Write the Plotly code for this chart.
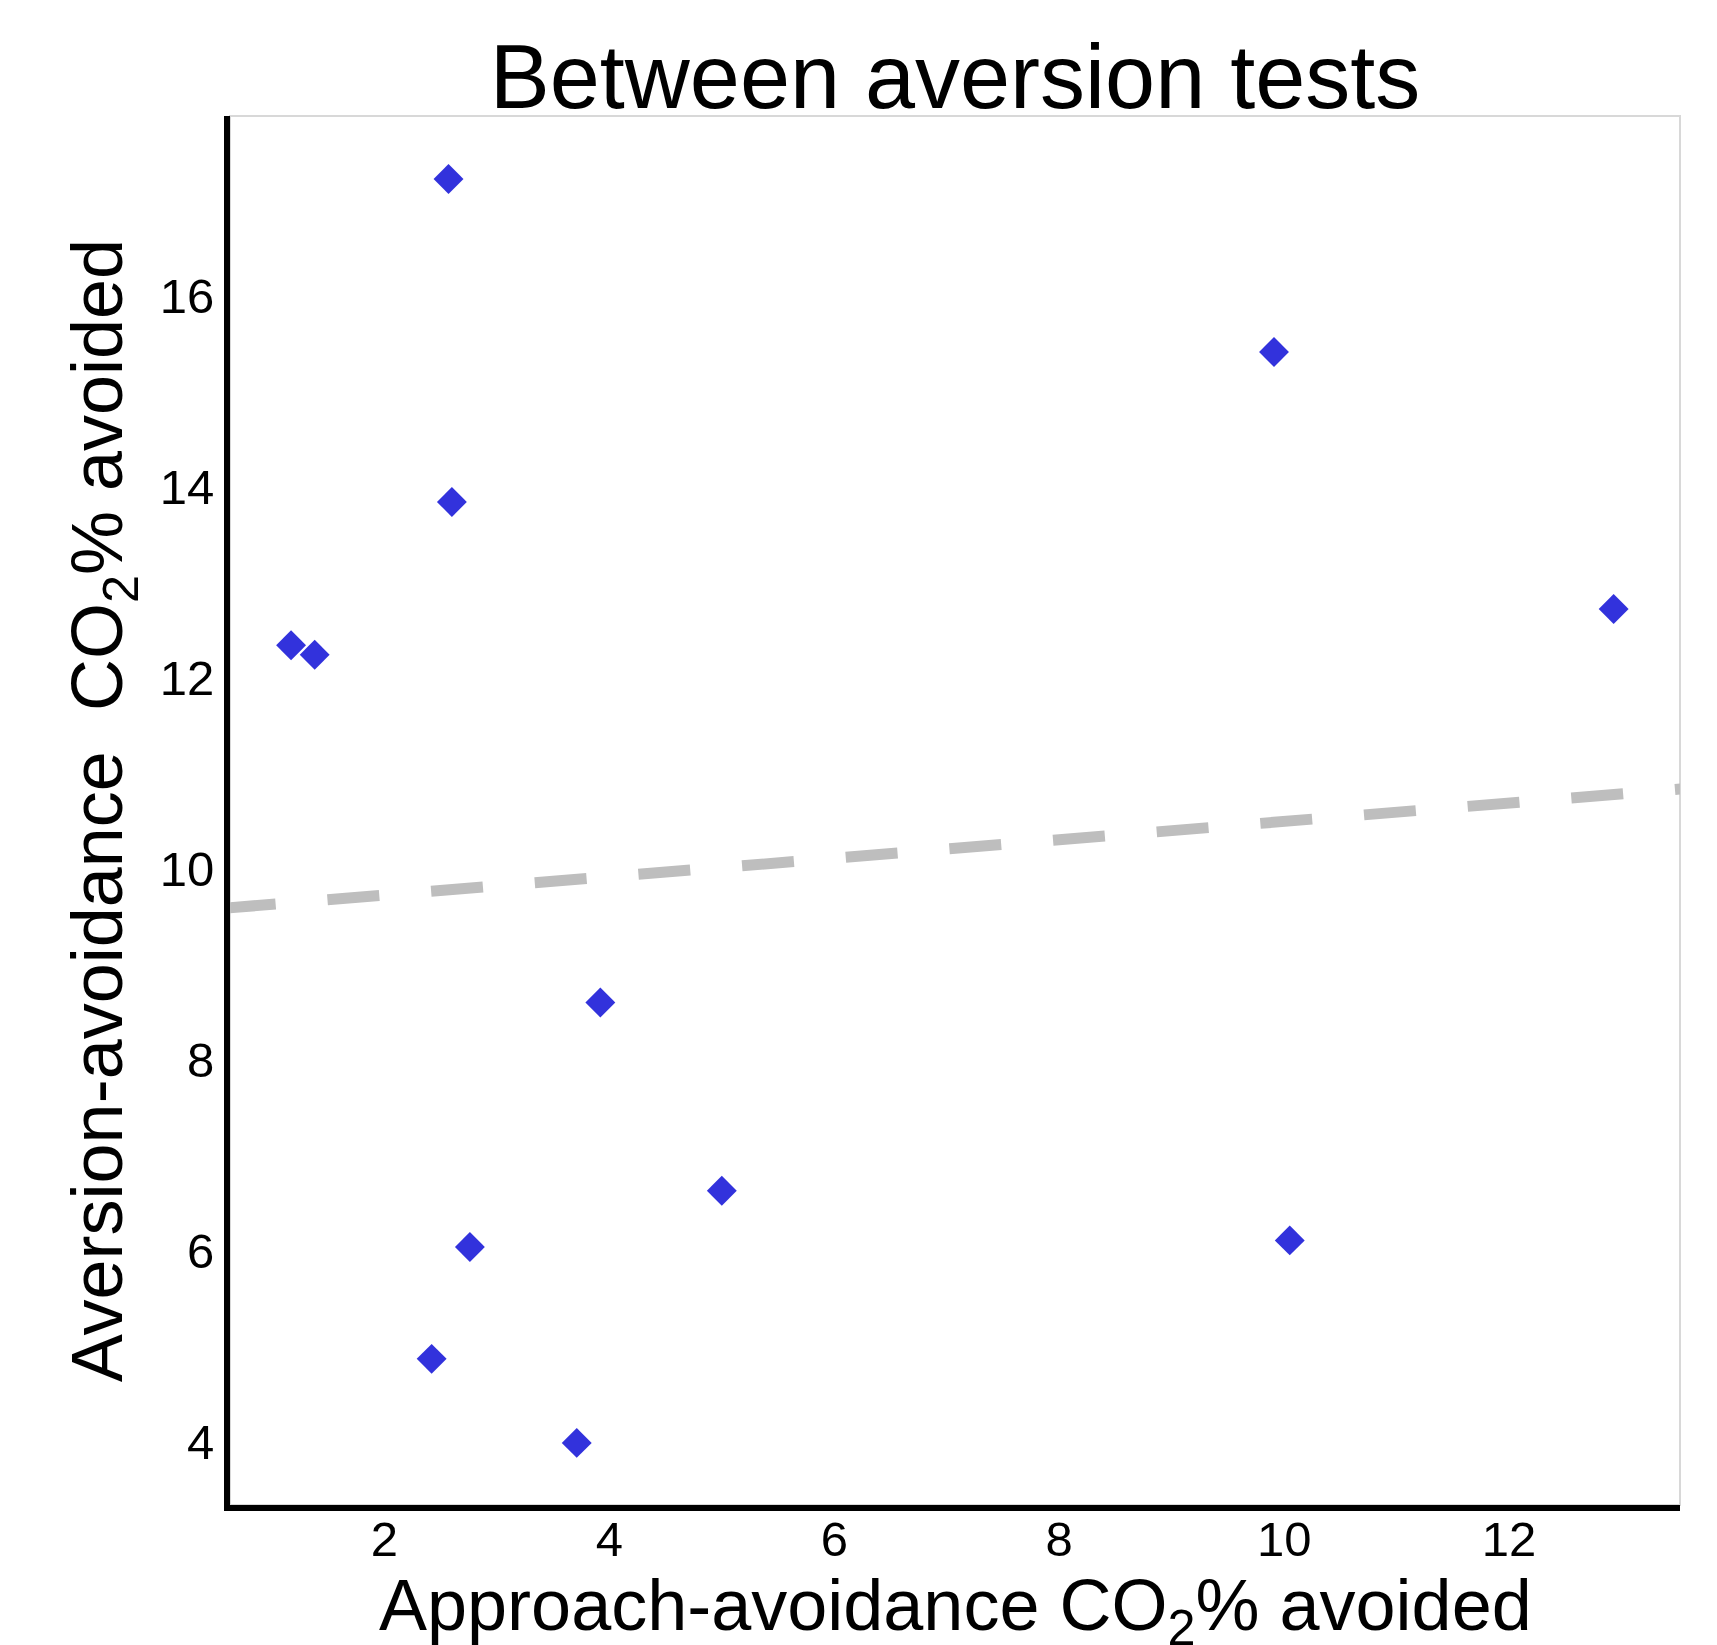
import numpy as np
import plotly.graph_objects as go

# Data
approach_avoided = [2.57, 9.91, 2.60, 12.93, 1.17, 1.38, 3.92, 5.00, 10.05, 2.76, 2.42, 3.71]
aversion_avoided = [17.22, 15.41, 13.84, 12.72, 12.34, 12.24, 8.60, 6.63, 6.11, 6.04, 4.87, 3.99]
x_ticks = [2, 4, 6, 8, 10, 12]
y_ticks = [4, 6, 8, 10, 12, 14, 16]
x_range = [0.627, 13.52]
y_range = [3.34, 17.88]

# Linear fit (dashed line) computed from the data, drawn across the panel (clipped)
slope, intercept = np.polyfit(approach_avoided, aversion_avoided, 1)
fit_x = np.array([x_range[0] - 0.055, x_range[1] + 0.5])
fit_y = slope * fit_x + intercept

FONT = "Liberation Sans, Arial, sans-serif"

fig = go.Figure()
fig.add_trace(go.Scatter(
    x=fit_x, y=fit_y, mode="lines",
    line=dict(color="#BEBEBE", width=11, dash="52px,52px"),
    hoverinfo="skip", showlegend=False,
))
fig.add_trace(go.Scatter(
    x=approach_avoided, y=aversion_avoided, mode="markers",
    marker=dict(symbol="diamond", size=23, color="rgb(50,50,220)", line=dict(width=0)),
    showlegend=False,
))

fig.update_layout(
    width=1717, height=1645,
    margin=dict(l=230, r=37, t=116, b=140),
    paper_bgcolor="white", plot_bgcolor="white",
    font=dict(family=FONT, color="black"),
    title=dict(
        text="Between aversion tests",
        font=dict(size=90, family=FONT, color="black"),
        x=0.5, xref="paper", xanchor="center",
        y=1 - 108 / 1645, yref="container", yanchor="bottom",
    ),
    shapes=[dict(
        type="rect", xref="paper", yref="paper", x0=0, x1=1, y0=0, y1=1,
        line=dict(color="#D8D8D8", width=2), layer="below",
    )],
    annotations=[dict(
        text="Approach-avoidance CO<sub>2</sub>% avoided",
        font=dict(size=72, family=FONT, color="black"),
        xref="paper", yref="paper", x=0.5, y=0,
        xanchor="center", yanchor="middle", yshift=-105,
        showarrow=False,
    )],
)

fig.update_xaxes(
    range=x_range, tickvals=x_ticks, ticktext=[str(v) for v in x_ticks],
    showgrid=False, zeroline=False, ticks="",
    showline=True, linecolor="black", linewidth=6,
    tickfont=dict(size=49, family=FONT, color="black"),
    ticklabelstandoff=-14,
    automargin=False,
)
fig.update_yaxes(
    range=y_range, tickvals=y_ticks, ticktext=[str(v) for v in y_ticks],
    showgrid=False, zeroline=False, ticks="",
    showline=True, linecolor="black", linewidth=6,
    tickfont=dict(size=49, family=FONT, color="black"),
    title=dict(text="Aversion-avoidance&nbsp; CO<sub>2</sub>% avoided",
               font=dict(size=72, family=FONT, color="black")),
    automargin=False,
)

fig.write_html("out.html")
